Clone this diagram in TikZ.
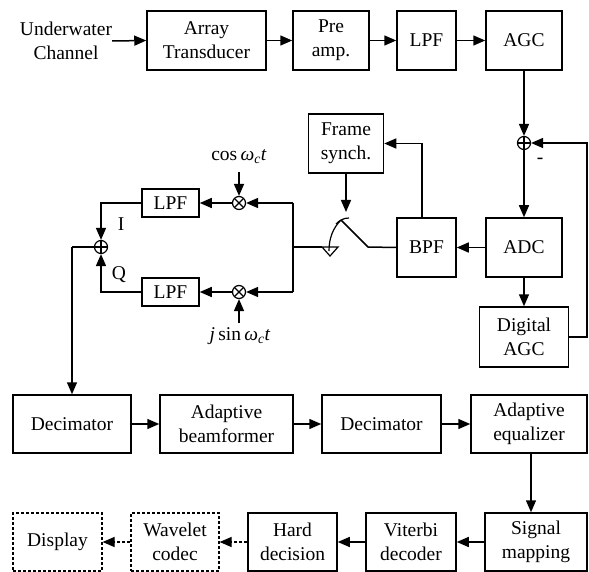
\documentclass[tikz,border=0pt]{standalone}
\usepackage{fontspec}
\setmainfont{Liberation Serif}
\usetikzlibrary{arrows.meta}
\tikzset{
  blk/.style={draw, line width=1.5pt, align=center, inner sep=0pt, minimum height=59pt},
  dblk/.style={blk, dash pattern=on 3pt off 2pt, line width=1.2pt},
  arr/.style={line width=1.5pt, -{Triangle[length=12pt,width=10pt]}},
  darr/.style={line width=1.2pt, dash pattern=on 3pt off 2pt, -{Triangle[length=12pt,width=10pt]}},
  wire/.style={line width=1.5pt},
  lbl/.style={inner sep=0pt, align=center},
  plusc/.style={draw, circle, line width=1.2pt, minimum size=13pt, inner sep=0pt,
    path picture={\draw[line width=1.2pt] (path picture bounding box.north) -- (path picture bounding box.south)
      (path picture bounding box.west) -- (path picture bounding box.east);}},
  timesc/.style={draw, circle, line width=1.2pt, minimum size=13pt, inner sep=0pt,
    path picture={\draw[line width=1.2pt] (path picture bounding box.north west) -- (path picture bounding box.south east)
      (path picture bounding box.south west) -- (path picture bounding box.north east);}}
}
\begin{document}
\begin{tikzpicture}[x=1pt, y=-1pt, font=\fontsize{19.5}{24}\selectfont]
\useasboundingbox (0,0) rectangle (589,572);

% --- receiver front end ---
\node[lbl] (uw) at (66,41) {Underwater\\Channel};
\node[blk, minimum width=119pt] (arr) at (206.5,40.5) {Array\\Transducer};
\node[blk, minimum width=76pt] (pre) at (331,40.5) {Pre\\amp.};
\node[blk, minimum width=59pt] (lpfa) at (426.5,40.5) {LPF};
\node[blk, minimum width=76pt] (agc) at (524,40.5) {AGC};

\draw[arr] (uw.east) -- (arr.west);
\draw[arr] (arr) -- (pre);
\draw[arr] (pre) -- (lpfa);
\draw[arr] (lpfa) -- (agc);

% --- AGC loop and conversion ---
\node[plusc] (sum) at (524,143) {};
\node[lbl] (minus) at (540,161) {-};
\node[blk, minimum width=75pt] (frame) at (346,143.5) {Frame\\synch.};
\node[blk, minimum width=59pt] (bpf) at (426.5,247.5) {BPF};
\node[blk, minimum width=76pt] (adc) at (524,247.5) {ADC};
\node[blk, minimum width=89pt, minimum height=60pt] (dagc) at (524,337) {Digital\\AGC};
\coordinate (fbr) at (587,337);

\draw[arr] (agc) -- (sum);
\draw[arr] (sum) -- (adc);
\draw[arr] (dagc.east) -- (fbr) |- (sum.east);
\draw[arr] (adc) -- (bpf);
\draw[arr] (adc) -- (dagc);
\draw[arr] ([xshift=-4.5pt]bpf.north) |- (frame.east);

% --- frame-synchronised switch ---
\coordinate (swtip) at (346,212);
\coordinate (swpiv) at (341,220);
\coordinate (swknee) at (368,247);
\coordinate (swin) at (322,247);
\coordinate (split) at (293,247);
\draw[arr] (frame.south) -- (swtip);
\draw[wire] (bpf.west) -- (swknee) -- (swpiv);
\draw[line width=1.2pt] (336,224) .. controls (340,220) and (344,218) .. (349,218);
\draw[line width=1.2pt] (swpiv) .. controls (333,228) and (329,238) .. (329,251);
\draw[line width=1.2pt] (322,247) -- (338,247) -- (330,256) -- cycle;
\draw[wire] (split) -- (swin);

% --- quadrature demodulator ---
\node[timesc] (mixi) at (239,203) {};
\node[timesc] (mixq) at (239,292) {};
\node[blk, minimum width=57pt, minimum height=28pt] (lpfi) at (170.5,203) {LPF};
\node[blk, minimum width=57pt, minimum height=28pt] (lpfq) at (170.5,292) {LPF};
\node[plusc] (sumiq) at (101,247) {};
\node[lbl] (cosl) at (239,157) {cos\,\textit{ω}\textsubscript{\textit{c}}\textit{t}};
\node[lbl] (sinl) at (240,336) {\textit{j}\,sin\,\textit{ω}\textsubscript{\textit{c}}\textit{t}};
\node[lbl] (il) at (121,224) {I};
\node[lbl] (ql) at (119,275) {Q};
\coordinate (splitt) at (293,203);
\coordinate (splitb) at (293,292);
\coordinate (cosin) at (239,172);
\coordinate (sinin) at (239,323);
\coordinate (iq) at (72,247);

\draw[wire] (splitt) -- (splitb);
\draw[arr] (splitt) -- (mixi.east);
\draw[arr] (splitb) -- (mixq.east);
\draw[arr] (cosin) -- (mixi.north);
\draw[arr] (sinin) -- (mixq.south);
\draw[arr] (mixi) -- (lpfi);
\draw[arr] (mixq) -- (lpfq);
\draw[arr] (lpfi.west) -| (sumiq.north);
\draw[arr] (lpfq.west) -| (sumiq.south);

% --- baseband processing ---
\node[blk, minimum width=118pt, minimum height=58pt] (deca) at (72,424) {Decimator};
\node[blk, minimum width=133pt, minimum height=58pt] (abf) at (226.5,424) {Adaptive\\beamformer};
\node[blk, minimum width=119pt, minimum height=58pt] (decb) at (381.5,424) {Decimator};
\node[blk, minimum width=116pt, minimum height=58pt] (aeq) at (529,424) {Adaptive\\equalizer};

\draw[wire] (sumiq.west) -- (iq);
\draw[arr] (iq) -- (deca.north);
\draw[arr] (deca) -- (abf);
\draw[arr] (abf) -- (decb);
\draw[arr] (decb) -- (aeq);

% --- decoding and output ---
\node[blk, minimum width=102pt, minimum height=58pt] (smap) at (536,542) {Signal\\mapping};
\node[blk, minimum width=90pt, minimum height=58pt] (vit) at (411,542) {Viterbi\\decoder};
\node[blk, minimum width=89pt, minimum height=58pt] (hard) at (292.5,542) {Hard\\decision};
\node[dblk, minimum width=88pt, minimum height=58pt] (wav) at (175,542) {Wavelet\\codec};
\node[dblk, minimum width=89pt, minimum height=58pt] (disp) at (57.5,542) {Display};

\draw[arr] ([xshift=2pt]aeq.south) -- ([xshift=-5pt]smap.north);
\draw[arr] (smap) -- (vit);
\draw[arr] (vit) -- (hard);
\draw[darr] (hard) -- (wav);
\draw[darr] (wav) -- (disp);
\end{tikzpicture}
\end{document}
